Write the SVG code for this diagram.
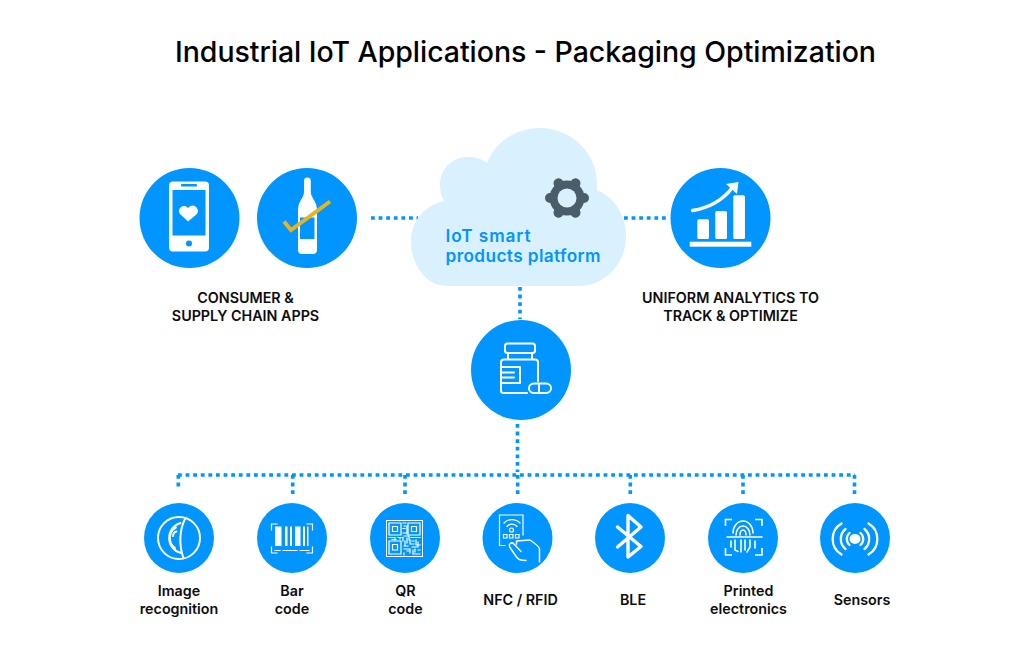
<svg xmlns="http://www.w3.org/2000/svg" width="1024" height="649" viewBox="0 0 1024 649">
<style>
text{font-family:"Inter","Liberation Sans",sans-serif;fill:#0c0c0c;text-anchor:middle;font-weight:600;font-size:14.3px}
.title{font-size:28.500px;font-weight:500;text-anchor:start;fill:#000}
.cloudt{fill:#0095ff;font-size:17.200px;font-weight:600;text-anchor:start}
.c{fill:#0095ff}
.d{fill:none;stroke:#0095ff;stroke-width:3.6;stroke-dasharray:3.8 3.8}
.w{fill:#fff}
.s{fill:none;stroke:#fff;stroke-width:2;stroke-linecap:round;stroke-linejoin:round}
.t{fill:none;stroke:#fff;stroke-width:1.2;stroke-linecap:square}
</style>
<rect width="1024" height="649" fill="#fff"/>
<text class="title" x="175" y="62" textLength="701">Industrial IoT Applications - Packaging Optimization</text>
<g id="connectors">
<path class="d" d="M371 218H418"/>
<path class="d" d="M624 218H666"/>
<path class="d" d="M520 287V319"/>
<path class="d" d="M517.500 424V472"/>
<path class="d" d="M178 475H855"/>
<path class="d" d="M178.300 475V490"/>
<path class="d" d="M292.700 475V495"/>
<path class="d" d="M405 475V495"/>
<path class="d" d="M517.700 475V495"/>
<path class="d" d="M630.300 475V495"/>
<path class="d" d="M743 475V495"/>
<path class="d" d="M854.500 475V495"/>
</g>
<g id="cloud">
<path fill="#d9f0ff" d="M447 286C426 286 411 265 411 241C411 221 425 205 444 201C441 196 440 190 440 185C440 169 452 157 468 157C475 157 482 159 487 163C495 142 516 128 540 128C572 128 597 154 597 183L597 190C614 197 626 215 626 236C626 264 605 286 578 286Z"/>
<circle cx="567" cy="198" r="17.500" fill="#4a5d6b"/>
<path fill="none" stroke="#4a5d6b" stroke-width="10" stroke-linecap="round" d="M578 198H584M556 198H550M572.500 188.500L575.500 183.300M561.500 188.500L558.500 183.300M572.500 207.500L575.500 212.700M561.500 207.500L558.500 212.700"/>
<circle cx="567" cy="198" r="9.500" fill="#d9f0ff"/>
<text class="cloudt" x="445.500" y="242" textLength="85">IoT smart</text>
<text class="cloudt" x="445.500" y="262" textLength="155">products platform</text>
</g>
<g id="consumer-phone">
<circle class="c" cx="189.500" cy="218" r="50"/>
<rect class="w" x="169" y="181.500" width="40" height="70" rx="4"/>
<rect class="c" x="172.500" y="190" width="33" height="45.500"/>
<rect class="c" x="181" y="184" width="16" height="2.500" rx="1"/>
<circle class="c" cx="189" cy="243.500" r="3"/>
<path class="w" d="M188 221.500L180 214A5 5 0 0 1 188 208A5 5 0 0 1 197 214Z"/>
</g>
<g id="consumer-bottle">
<circle class="c" cx="307" cy="218" r="50"/>
<path class="w" d="M304 181a3.400 3.400 0 0 1 6.800 0V192C311 198 317 201 317 210V250a4 4 0 0 1-4 4H302a4 4 0 0 1-4-4V210C298 201 304 198 304 192Z"/>
<rect class="c" x="300" y="217.500" width="14.500" height="21.500"/>
<path fill="none" stroke="#e8b41e" stroke-width="4" d="M284 221.500L291 230L330 201.500"/>
</g>
<g id="analytics">
<circle class="c" cx="720.500" cy="218" r="50"/>
<rect class="w" x="689.700" y="241.700" width="61.600" height="5"/>
<rect class="w" x="697.300" y="219.300" width="11.700" height="19.700" rx="1.500"/>
<rect class="w" x="715.300" y="211" width="11.700" height="28" rx="1.500"/>
<rect class="w" x="733.300" y="195.300" width="11.700" height="43.700" rx="1.500"/>
<path fill="none" stroke="#fff" stroke-width="3.500" stroke-linecap="round" d="M692.500 210.500C708 208 722 201 732 188"/>
<path class="w" d="M726 184L738.500 182L737 194Z"/>
</g>
<g id="packaging">
<circle class="c" cx="521" cy="370" r="50"/>
<rect class="s" x="505" y="343.500" width="30" height="9.500" rx="2.500"/>
<path class="s" d="M508 353V359M532 353V359M527 393H503.500a2.500 2.500 0 0 1-2.500-2.500V362.500a3 3 0 0 1 3-3H535a3 3 0 0 1 3 3V381M501 367H520V383H501M501 372.500H514M501 377.500H514"/>
<rect class="s" x="529" y="383.500" width="22" height="9.500" rx="4.750"/>
<path class="s" d="M539 384V393"/>
</g>
<g id="image-recognition">
<circle class="c" cx="179" cy="538" r="35"/>
<circle class="s" cx="179" cy="538" r="21"/>
<path class="s" d="M185.500 518C179 530 179 546 183.500 558"/>
<path class="s" d="M180.500 523A15.500 15.500 0 0 0 181 553"/>
<path class="s" d="M176 527.500C168.500 531 167.500 543 175 548M176.500 531.500Q173.500 532 173 536"/>
</g>
<g id="bar-code">
<circle class="c" cx="292" cy="538" r="35"/>
<path class="w" d="M275 526.500h6.500V546H275zM285 526.500h2.500V546H285zM290 526.500h2V546H290zM295 526.500h5.500V546H295zM303 526.500h2V546H303zM307 526.500h1.500V546H307z"/>
<path class="t" d="M271.500 530V524H277M312.500 530V524H307M271.500 547V553H277M312.500 547V553H307M275 550.500H280M283 550.500H297M300 550.500H309"/>
</g>
<g id="qr-code">
<circle class="c" cx="405" cy="538" r="35"/>
<rect x="386.500" y="520.500" width="36" height="36" fill="none" stroke="#fff" stroke-width="1"/>
<path class="t" d="M389 523H401V535H389ZM408 523H420V535H408ZM389 541H401V554H389ZM392.500 526.500H397.500V531.500H392.500ZM411.500 526.500H416.500V531.500H411.500ZM392.500 544.500H397.500V550H392.500Z"/>
<path class="t" d="M403 523H406M404 526H407V531M403 533H407M389 537.500H395V540M398 537.500H403V541M404 536H409V540M411 537.500H420M405 541V546H408M410 540V544H414M416 540V545H420M404 549H410V553M412 547H418M404 553V555M413 550V554H420M407 528V534M403 528.500H405M392 539.500H396M400 537.500V539M407 538V543M412 541H414M418 542V546M407 551H409M415 549V552M404 546H406M418 550H420"/>
</g>
<g id="nfc-rfid">
<circle class="c" cx="517.500" cy="538" r="35"/>
<path class="t" d="M505 545.500H499.500V515H523V535"/>
<path class="t" d="M504 523A11 11 0 0 1 520 523M507 526.500A6.500 6.500 0 0 1 517 526.500"/>
<circle cx="511.500" cy="530" r="2" fill="none" stroke="#fff" stroke-width="1.200"/>
<path class="t" d="M503.500 534.500H507V538H503.500ZM509.500 534.500H513V538H509.500ZM515.500 534.500H519V538H515.500Z"/>
<path fill="none" stroke="#fff" stroke-width="1.500" stroke-linejoin="round" stroke-linecap="round" d="M526 560.500C522 560.500 518.500 560 516.500 557L510 547.500C508 544 511.500 541.500 514 544L521 551.500M516.500 544V541L530 540C533 542 539 546 539.500 549V562"/>
</g>
<g id="ble">
<circle class="c" cx="630" cy="538" r="35"/>
<path fill="none" stroke="#fff" stroke-width="3.400" stroke-linecap="round" stroke-linejoin="round" d="M617.500 527L641 546.500L628 557V515.500L641 527L617.500 547"/>
</g>
<g id="printed-electronics">
<circle class="c" cx="743" cy="538" r="35"/>
<path fill="none" stroke="#fff" stroke-width="1.600" d="M725.500 526V519.500H732M762 526V519.500H755M725.500 548V555H732M762 548V555H755"/>
<path fill="none" stroke="#fff" stroke-width="1.600" stroke-linecap="round" d="M727 537H762M733 533A10 12 0 0 1 753 533M736 535A7 9 0 0 1 750 535M740 535A3 5 0 0 1 746 535M731 541V547M735 540V550L738 551.500M741 540V552M745 540V550M750 540V547L747 552M755 541V548"/>
</g>
<g id="sensors">
<circle class="c" cx="855" cy="538" r="35"/>
<ellipse class="w" cx="855" cy="539" rx="5.500" ry="5"/>
<path fill="none" stroke="#fff" stroke-width="2.300" stroke-linecap="round" d="M849.500 533A8 8 0 0 0 849.500 545M860.500 533A8 8 0 0 1 860.500 545M845.500 529A13 13 0 0 0 845.500 549M864.500 529A13 13 0 0 1 864.500 549M841.500 523.500A18 18 0 0 0 841.500 554.500M868.500 523.500A18 18 0 0 1 868.500 554.500"/>
</g>
<g id="labels">
<text x="245.500" y="303">CONSUMER &amp;</text>
<text x="245.500" y="321">SUPPLY CHAIN APPS</text>
<text x="730.500" y="303">UNIFORM ANALYTICS TO</text>
<text x="730.500" y="321">TRACK &amp; OPTIMIZE</text>
<text x="179" y="596">Image</text>
<text x="179" y="614">recognition</text>
<text x="292" y="596">Bar</text>
<text x="292" y="614">code</text>
<text x="405.500" y="596">QR</text>
<text x="405.500" y="614">code</text>
<text x="520.500" y="605">NFC / RFID</text>
<text x="633" y="605">BLE</text>
<text x="748.500" y="596">Printed</text>
<text x="748.500" y="614">electronics</text>
<text x="862" y="605">Sensors</text>
</g>
</svg>
